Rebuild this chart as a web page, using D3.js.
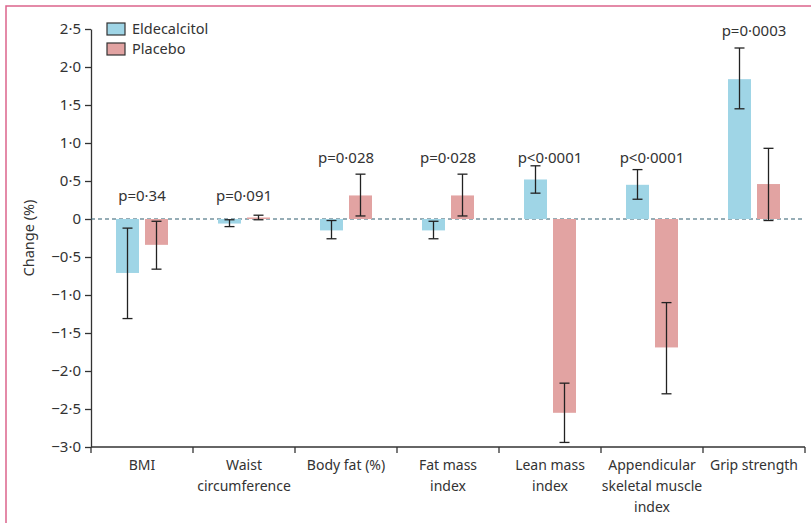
<!DOCTYPE html>
<html>
<head>
<meta charset="utf-8">
<script src="https://cdn.jsdelivr.net/npm/d3@7"></script>
<style>
  body { margin: 0; background: #fff; }
  svg text { font-family: "Noto Sans", "Open Sans", sans-serif; fill: #333; }
</style>
</head>
<body>
<div id="chart"></div>
<script>
// outcome categories (label lines)
var categories = [
  ["BMI"],
  ["Waist", "circumference"],
  ["Body fat (%)"],
  ["Fat mass", "index"],
  ["Lean mass", "index"],
  ["Appendicular", "skeletal muscle", "index"],
  ["Grip strength"]
];
var pValues = ["p=0·34", "p=0·091", "p=0·028", "p=0·028", "p<0·0001", "p<0·0001", "p=0·0003"];
// level (in % change) where each p value is written
var pLevel = [0.31, 0.31, 0.82, 0.82, 0.82, 0.82, 2.49];

// mean % change with error bar limits
var eldeMean = [-0.71, -0.06, -0.15, -0.15, 0.52, 0.45, 1.84];
var eldeHigh = [-0.12, -0.01, -0.02, -0.03, 0.70, 0.65, 2.25];
var eldeLow  = [-1.31, -0.10, -0.26, -0.26, 0.34, 0.26, 1.45];

var placMean = [-0.34, 0.02, 0.31, 0.31, -2.55, -1.69, 0.46];
var placHigh = [-0.03, 0.05, 0.59, 0.59, -2.16, -1.10, 0.93];
var placLow  = [-0.66, -0.01, 0.04, 0.04, -2.94, -2.30, -0.02];

var yTicks = [2.5, 2.0, 1.5, 1.0, 0.5, 0, -0.5, -1.0, -1.5, -2.0, -2.5, -3.0];

var w = 811, h = 523;
var plotL = 91, plotR = 805, plotT = 29, plotB = 447;

var svg = d3.select("#chart").append("svg")
  .attr("width", w)
  .attr("height", h);

// frame
svg.append("path")
  .attr("d", "M6," + h + "V6H" + w)
  .attr("fill", "none")
  .attr("stroke", "#dc648c")
  .attr("stroke-width", 1.5);

var x = d3.scaleBand()
  .domain(d3.range(categories.length))
  .range([plotL, plotR]);

var y = d3.scaleLinear()
  .domain([-3, 2.5])
  .range([plotB, plotT]);

function fmt(v) {
  if (v === 0) return "0";
  return (v < 0 ? "\u2212" : "") + Math.abs(v).toFixed(1).replace(".", "·");
}

// y axis
var yAxis = svg.append("g")
  .attr("transform", "translate(" + plotL + ",0)")
  .call(d3.axisLeft(y).tickValues(yTicks).tickFormat(fmt).tickSize(6).tickPadding(4).tickSizeOuter(0));
yAxis.select(".domain").attr("stroke", "#333").attr("stroke-width", 1.3);
yAxis.selectAll(".tick line").attr("stroke", "#333").attr("stroke-width", 1.3);
yAxis.selectAll("text").attr("font-size", 15).attr("fill", "#333")
  .style("font-family", "'Noto Sans', sans-serif");

// x axis
var xAxis = svg.append("g")
  .attr("transform", "translate(0," + plotB + ")");
xAxis.append("line")
  .attr("x1", plotL).attr("x2", plotR)
  .attr("stroke", "#333").attr("stroke-width", 1.3);
xAxis.selectAll("line.tk")
  .data(d3.range(categories.length + 1))
  .enter().append("line")
  .attr("class", "tk")
  .attr("x1", function(d) { return d < categories.length ? x(d) : plotR; })
  .attr("x2", function(d) { return d < categories.length ? x(d) : plotR; })
  .attr("y1", 0).attr("y2", 6)
  .attr("stroke", "#333").attr("stroke-width", 1.3);

var labels = xAxis.selectAll("text.cat")
  .data(categories)
  .enter().append("text")
  .attr("class", "cat")
  .attr("text-anchor", "middle")
  .attr("font-size", 14)
  .attr("x", function(d, i) { return x(i) + x.bandwidth() / 2; });
labels.selectAll("tspan")
  .data(function(d) { return d; })
  .enter().append("tspan")
  .attr("x", function() { return d3.select(this.parentNode).attr("x"); })
  .attr("y", function(d, i) { return 23 + i * 21; })
  .text(function(d) { return d; });

// y label
svg.append("text")
  .attr("transform", "translate(34," + ((plotT + plotB) / 2) + ") rotate(-90)")
  .attr("text-anchor", "middle")
  .attr("font-size", 14.5)
  .text("Change (%)");

// zero line
svg.append("line")
  .attr("x1", plotL).attr("x2", plotR)
  .attr("y1", y(0)).attr("y2", y(0))
  .attr("stroke", "#2f5d6e")
  .attr("stroke-width", 1.1)
  .attr("stroke-dasharray", "4,3");

var barW = 23, gap = 6;
var series = [
  { name: "Eldecalcitol", color: "#9fd5e6", mean: eldeMean, hi: eldeHigh, lo: eldeLow, off: -gap / 2 - barW },
  { name: "Placebo", color: "#e2a3a2", mean: placMean, hi: placHigh, lo: placLow, off: gap / 2 }
];

series.forEach(function(s) {
  var g = svg.append("g");
  g.selectAll("rect")
    .data(s.mean)
    .enter().append("rect")
    .attr("x", function(d, i) { return x(i) + x.bandwidth() / 2 + s.off; })
    .attr("width", barW)
    .attr("y", function(d) { return y(Math.max(0, d)); })
    .attr("height", function(d) { return Math.abs(y(d) - y(0)); })
    .attr("fill", s.color);

  var eb = g.selectAll("g.err")
    .data(s.mean.map(function(d, i) { return { i: i, hi: s.hi[i], lo: s.lo[i] }; }))
    .enter().append("g")
    .attr("class", "err")
    .attr("transform", function(d) {
      return "translate(" + (x(d.i) + x.bandwidth() / 2 + s.off + barW / 2) + ",0)";
    })
    .attr("stroke", "#222")
    .attr("stroke-width", 1.3);
  eb.append("line")
    .attr("y1", function(d) { return y(d.hi); })
    .attr("y2", function(d) { return y(d.lo); });
  eb.append("line")
    .attr("x1", -5).attr("x2", 5)
    .attr("y1", function(d) { return y(d.hi); })
    .attr("y2", function(d) { return y(d.hi); });
  eb.append("line")
    .attr("x1", -5).attr("x2", 5)
    .attr("y1", function(d) { return y(d.lo); })
    .attr("y2", function(d) { return y(d.lo); });
});

// p values
svg.selectAll("text.pv")
  .data(pValues)
  .enter().append("text")
  .attr("class", "pv")
  .attr("text-anchor", "middle")
  .attr("dominant-baseline", "central")
  .attr("font-size", 15)
  .attr("x", function(d, i) { return x(i) + x.bandwidth() / 2; })
  .attr("y", function(d, i) { return y(pLevel[i]); })
  .text(function(d) { return d; });

// legend
var legend = svg.append("g")
  .attr("transform", "translate(107,23)");
var li = legend.selectAll("g")
  .data(series)
  .enter().append("g")
  .attr("transform", function(d, i) { return "translate(0," + i * 20 + ")"; });
li.append("rect")
  .attr("width", 18).attr("height", 12)
  .attr("fill", function(d) { return d.color; })
  .attr("stroke", "#333")
  .attr("stroke-width", 1.2);
li.append("text")
  .attr("x", 25).attr("y", 11)
  .attr("font-size", 14.5)
  .text(function(d) { return d.name; });
</script>
</body>
</html>
